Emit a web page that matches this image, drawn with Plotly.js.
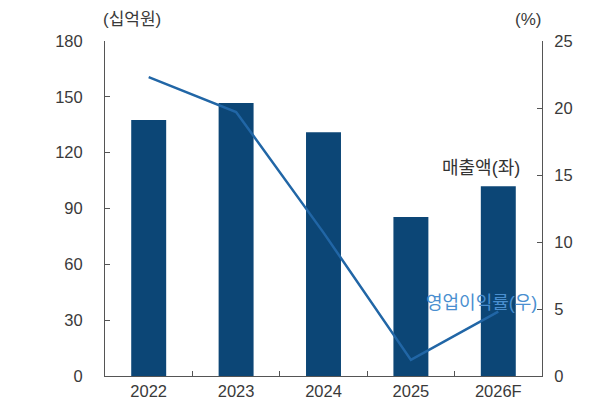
<!DOCTYPE html>
<html>
<head>
<meta charset="utf-8">
<script src="https://cdn.plot.ly/plotly-3.0.1.min.js"></script>
<style>
  body { margin: 0; background: #fff; }
  #chart { width: 600px; height: 409px; }
</style>
</head>
<body>
<div id="chart"></div>
<script>
// years on the x axis
var years = ['2022', '2023', '2024', '2025', '2026F'];
// 매출액 (십억원), left axis
var sales = [137.5, 146.7, 131, 85.5, 102];
// 영업이익률 (%), right axis
var opMargin = [22.3, 19.7, 10.7, 1.2, 4.8];

var salesTrace = {
  x: years,
  y: sales,
  type: 'bar',
  name: '매출액(좌)',
  marker: { color: '#0c4676' },
  width: 0.4,
  yaxis: 'y'
};

var marginTrace = {
  x: years,
  y: opMargin,
  type: 'scatter',
  mode: 'lines',
  name: '영업이익률(우)',
  line: { color: '#2166a6', width: 2.5 },
  yaxis: 'y2'
};

var fnt = { family: 'Arial, "Noto Sans CJK KR", sans-serif', size: 16.5, color: '#3a3a3a' };

var layout = {
  width: 600,
  height: 409,
  margin: { l: 105, r: 58, t: 41, b: 33 },
  paper_bgcolor: '#fff',
  plot_bgcolor: '#fff',
  showlegend: false,
  font: fnt,
  xaxis: {
    type: 'category',
    range: [-0.5, 4.5],
    showline: true,
    linecolor: '#555',
    linewidth: 1,
    ticks: 'inside',
    tickson: 'boundaries',
    ticklen: 5,
    tickcolor: '#555',
    showgrid: false,
    zeroline: false,
    tickfont: fnt
  },
  yaxis: {
    range: [0, 180],
    tickvals: [0, 30, 60, 90, 120, 150, 180],
    showline: true,
    linecolor: '#555',
    ticks: 'inside',
    ticklen: 5,
    tickcolor: '#555',
    showgrid: false,
    zeroline: false,
    ticklabelstandoff: 18,
    tickfont: fnt
  },
  yaxis2: {
    overlaying: 'y',
    side: 'right',
    range: [0, 25],
    tickvals: [0, 5, 10, 15, 20, 25],
    showline: true,
    linecolor: '#555',
    ticks: 'inside',
    ticklen: 5,
    tickcolor: '#555',
    showgrid: false,
    zeroline: false,
    ticklabelstandoff: 8,
    tickfont: fnt
  },
  annotations: [
    { text: '(십억원)', xref: 'paper', yref: 'paper', x: 0.062, y: 1.03,
      xanchor: 'center', yanchor: 'bottom', showarrow: false,
      font: { family: fnt.family, size: 17, color: '#3a3a3a' } },
    { text: '(%)', xref: 'paper', yref: 'paper', x: 0.968, y: 1.03,
      xanchor: 'center', yanchor: 'bottom', showarrow: false,
      font: { family: fnt.family, size: 17, color: '#3a3a3a' } },
    { text: '매출액(좌)', xref: 'x', yref: 'y', x: 4.27, y: 112,
      xanchor: 'right', yanchor: 'middle', showarrow: false,
      font: { family: fnt.family, size: 18, color: '#333' } },
    { text: '영업이익률(우)', xref: 'x', yref: 'y2', x: 4.47, y: 5.45,
      xanchor: 'right', yanchor: 'middle', showarrow: false,
      font: { family: fnt.family, size: 18, color: '#4a8fd0' } }
  ]
};

Plotly.newPlot('chart', [salesTrace, marginTrace], layout, { displayModeBar: false, staticPlot: true });
</script>
</body>
</html>
